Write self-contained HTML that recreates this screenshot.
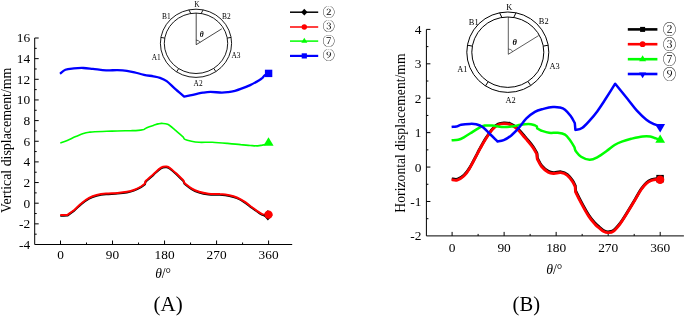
<!DOCTYPE html>
<html><head><meta charset="utf-8"><title>Displacement curves</title>
<style>
html,body{margin:0;padding:0;background:#fff}
svg{display:block}
text{font-family:"Liberation Serif","Noto Serif CJK SC",serif;fill:#000}
.c{font-family:"Liberation Serif","Noto Serif CJK SC","Noto Sans CJK SC","DejaVu Sans",serif}
</style></head><body>
<svg width="685" height="317" viewBox="0 0 685 317">
<rect width="685" height="317" fill="#fff"/>
<g id="chartA">
<path d="M38.7 38.0L34.7 38.0L34.7 244.5L292.2 244.5M34.7 48.33h2M34.7 58.65h4M34.7 68.97h2M34.7 79.30h4M34.7 89.62h2M34.7 99.95h4M34.7 110.28h2M34.7 120.60h4M34.7 130.93h2M34.7 141.25h4M34.7 151.57h2M34.7 161.90h4M34.7 172.22h2M34.7 182.55h4M34.7 192.88h2M34.7 203.20h4M34.7 213.53h2M34.7 223.85h4M34.7 234.18h2M60.50 244.5v-4M86.51 244.5v-2M112.53 244.5v-4M138.54 244.5v-2M164.55 244.5v-4M190.56 244.5v-2M216.58 244.5v-4M242.59 244.5v-2M268.60 244.5v-4" fill="none" stroke="#000" stroke-width="1"/>
<g font-size="13.4" text-anchor="end">
<text x="30.2" y="42.3">16</text>
<text x="30.2" y="62.9">14</text>
<text x="30.2" y="83.6">12</text>
<text x="30.2" y="104.2">10</text>
<text x="30.2" y="124.9">8</text>
<text x="30.2" y="145.6">6</text>
<text x="30.2" y="166.2">4</text>
<text x="30.2" y="186.9">2</text>
<text x="30.2" y="207.5">0</text>
<text x="30.2" y="228.2">-2</text>
<text x="30.2" y="248.8">-4</text>
</g>
<g font-size="13.3" text-anchor="middle">
<text x="60.5" y="259.3">0</text>
<text x="112.5" y="259.3">90</text>
<text x="164.6" y="259.3">180</text>
<text x="216.6" y="259.3">270</text>
<text x="268.6" y="259.3">360</text>
</g>
<text font-size="13.9" text-anchor="middle" transform="translate(11.2 140.3) rotate(-90)">Vertical displacement/mm</text>
<text font-size="13.6" text-anchor="middle" x="163.1" y="278.2"><tspan font-style="italic">θ</tspan>/°</text>
<text font-size="21" text-anchor="middle" x="168.1" y="311.3">(A)</text>
<g fill="none" stroke-linejoin="round" stroke-linecap="butt">
<path d="M60.1 73.8C61.0 73.1 63.1 70.6 65.4 69.7C67.7 68.8 70.9 68.7 73.9 68.4C76.9 68.1 80.2 67.9 83.4 68.0C86.6 68.1 89.1 68.5 92.9 68.9C96.7 69.3 102.0 70.2 106.1 70.4C110.2 70.6 114.0 70.0 117.5 70.1C121.0 70.2 124.1 70.4 126.9 70.8C129.7 71.2 131.7 71.6 134.5 72.3C137.3 73.0 140.8 74.1 144.0 74.8C147.2 75.5 150.7 75.8 153.4 76.3C156.1 76.8 157.8 77.0 160.0 77.8C162.2 78.6 164.3 79.4 166.7 81.2C169.1 83.0 171.7 85.8 174.6 88.4C177.5 91.0 182.6 95.3 184.2 96.7C185.6 96.4 189.8 95.5 192.9 94.8C196.0 94.1 200.1 93.2 203.0 92.7C205.9 92.2 207.3 91.9 210.5 91.9C213.7 91.9 219.0 92.6 221.9 92.6C224.8 92.6 226.0 92.4 228.2 92.1C230.4 91.8 232.9 91.3 235.0 90.8C237.1 90.3 238.2 89.9 240.7 88.9C243.2 88.0 247.0 86.6 250.2 85.1C253.3 83.6 257.6 81.1 259.6 79.9C261.7 78.7 261.7 78.5 262.5 77.8C263.3 77.0 263.6 76.1 264.6 75.4C265.6 74.7 267.9 73.8 268.5 73.5" stroke="#0000ff" stroke-width="2.3"/>
<path d="M60.3 142.9C61.5 142.5 64.7 141.5 67.3 140.4C69.9 139.3 73.1 137.7 75.8 136.6C78.5 135.5 81.2 134.3 83.4 133.6C85.6 132.9 87.2 132.6 89.1 132.3C91.0 132.0 90.9 131.9 94.7 131.7C98.5 131.5 105.8 131.3 111.8 131.1C117.8 130.9 126.3 130.8 130.7 130.7C135.1 130.6 136.1 130.6 138.3 130.4C140.5 130.2 143.1 129.6 144.0 129.4C144.5 129.1 145.2 128.4 146.8 127.7C148.4 127.0 151.5 126.0 153.4 125.4C155.3 124.8 156.8 124.2 158.2 123.9C159.6 123.6 160.3 123.3 161.9 123.4C163.5 123.5 165.5 123.3 167.6 124.3C169.7 125.3 172.0 127.4 174.6 129.6C177.2 131.8 181.9 135.9 183.4 137.2C183.7 137.6 183.6 138.7 184.9 139.4C186.2 140.1 189.1 140.8 191.5 141.3C193.9 141.8 195.6 142.1 199.1 142.3C202.6 142.5 207.6 142.1 212.3 142.3C217.0 142.5 222.8 143.0 227.5 143.4C232.2 143.8 236.9 144.2 240.7 144.6C244.5 144.9 247.4 145.3 250.2 145.5C253.0 145.7 255.6 146.0 257.7 145.9C259.8 145.8 260.8 145.4 262.5 145.1C264.2 144.8 267.2 144.0 268.2 143.8" stroke="#00ff00" stroke-width="1.6"/>
<path d="M60.3 215.1C61.5 215.1 66.1 214.9 67.3 214.9C68.4 214.1 71.5 212.1 73.9 210.2C76.3 208.2 79.0 205.2 81.5 203.2C84.0 201.1 86.6 199.3 89.1 197.9C91.6 196.5 93.8 195.7 96.6 195.0C99.4 194.3 102.6 193.8 106.1 193.5C109.6 193.2 114.0 193.2 117.5 192.9C121.0 192.6 124.1 192.3 126.9 191.8C129.7 191.3 132.1 190.6 134.5 189.7C136.9 188.8 139.4 187.5 141.1 186.5C142.8 185.5 144.3 184.2 144.9 183.7C145.0 183.3 145.4 181.6 145.5 181.2C146.8 180.0 150.8 176.5 153.4 174.2C156.0 171.9 158.8 168.9 161.0 167.6C163.2 166.3 165.1 166.4 166.7 166.6C168.3 166.8 168.9 167.3 170.5 168.5C172.1 169.7 174.2 171.6 176.4 173.6C178.6 175.6 182.2 179.3 183.4 180.4C183.6 180.8 184.3 182.7 184.5 183.1C185.7 184.0 189.1 186.9 191.5 188.4C193.9 189.9 196.3 190.9 199.1 191.8C201.9 192.7 205.0 193.3 208.5 193.7C212.0 194.1 216.4 193.8 219.9 194.1C223.4 194.3 226.6 194.6 229.4 195.2C232.2 195.8 234.4 196.4 236.9 197.5C239.4 198.6 242.0 200.0 244.5 201.6C247.0 203.2 249.6 205.5 252.1 207.3C254.6 209.1 257.6 211.3 259.6 212.6C261.7 213.9 262.9 214.5 264.4 214.9C265.9 215.3 267.8 214.9 268.5 214.9" stroke="#000" stroke-width="2" transform="translate(0 0.7)"/>
<path d="M60.3 215.1C61.5 215.1 66.1 214.9 67.3 214.9C68.4 214.1 71.5 212.1 73.9 210.2C76.3 208.2 79.0 205.2 81.5 203.2C84.0 201.1 86.6 199.3 89.1 197.9C91.6 196.5 93.8 195.7 96.6 195.0C99.4 194.3 102.6 193.8 106.1 193.5C109.6 193.2 114.0 193.2 117.5 192.9C121.0 192.6 124.1 192.3 126.9 191.8C129.7 191.3 132.1 190.6 134.5 189.7C136.9 188.8 139.4 187.5 141.1 186.5C142.8 185.5 144.3 184.2 144.9 183.7C145.0 183.3 145.4 181.6 145.5 181.2C146.8 180.0 150.8 176.5 153.4 174.2C156.0 171.9 158.8 168.9 161.0 167.6C163.2 166.3 165.1 166.4 166.7 166.6C168.3 166.8 168.9 167.3 170.5 168.5C172.1 169.7 174.2 171.6 176.4 173.6C178.6 175.6 182.2 179.3 183.4 180.4C183.6 180.8 184.3 182.7 184.5 183.1C185.7 184.0 189.1 186.9 191.5 188.4C193.9 189.9 196.3 190.9 199.1 191.8C201.9 192.7 205.0 193.3 208.5 193.7C212.0 194.1 216.4 193.8 219.9 194.1C223.4 194.3 226.6 194.6 229.4 195.2C232.2 195.8 234.4 196.4 236.9 197.5C239.4 198.6 242.0 200.0 244.5 201.6C247.0 203.2 249.6 205.5 252.1 207.3C254.6 209.1 257.6 211.3 259.6 212.6C261.7 213.9 262.9 214.5 264.4 214.9C265.9 215.3 267.8 214.9 268.5 214.9" stroke="#ff0000" stroke-width="2"/>
</g>
<rect x="264.9" y="69.7" width="7.4" height="7.4" fill="#0000ff"/>
<path d="M268.5 137.2L273.6 145.8H263.4Z" fill="#00ff00"/>
<path d="M267.9 210L272.5 215.2L267.9 220.4L263.3 215.2Z" fill="#000"/>
<circle cx="268.5" cy="214.6" r="4.2" fill="#ff0000"/>
<g fill="none" stroke="#000" stroke-width="0.9">
<ellipse cx="196.0" cy="43.3" rx="35.6" ry="34.1"/>
<ellipse cx="196.0" cy="43.3" rx="31.7" ry="30.2"/>
<path d="M231.1 37.4L227.2 38.1M160.9 37.4L164.8 38.1M215.9 71.6L213.7 68.3M176.6 71.9L178.7 68.6M188.9 9.9L190.8 13.5M203.1 9.9L201.2 13.5"/>
<path d="M196.2 13.1L196.2 44.7L221.8 28.8" stroke-width="0.72"/>
<path d="M196.2 40.1A4.6 4.6 0 0 1 200.1 42.3" stroke-width="0.63"/>
</g>
<g font-size="7.4" text-anchor="middle">
<text x="197.0" y="6.9">K</text>
<text x="166.3" y="19.4">B1</text>
<text x="226.4" y="19.2">B2</text>
<text x="156.3" y="59.7">A1</text>
<text x="236.0" y="57.9">A3</text>
<text x="198.1" y="86.0">A2</text>
<text x="201.8" y="37" font-size="7.5" font-style="italic" font-weight="bold">θ</text>
</g>
<g stroke-width="1.5">
<path d="M290 12.2H318.2" stroke="#000" stroke-width="1.5"/>
<path d="M290 27.0H318.2" stroke="#ff0000" stroke-width="1.5"/>
<path d="M290 41.1H318.2" stroke="#00ff00" stroke-width="1.5"/>
<path d="M290 55.9H318.2" stroke="#0000ff" stroke-width="2.2"/>
</g>
<path d="M304.3 8.8l3.2 3.4l-3.2 3.4l-3.2 -3.4Z" fill="#000"/>
<circle cx="304.3" cy="27.0" r="2.7" fill="#ff0000"/>
<path d="M304.3 37.8l3 5h-6Z" fill="#00ff00"/>
<rect x="301.7" y="53.3" width="5.2" height="5.2" fill="#0000ff"/>
<g class="c" font-size="12.5" text-anchor="middle">
<text class="c" x="328.8" y="16.9">②</text>
<text class="c" x="328.8" y="31.3">③</text>
<text class="c" x="328.8" y="45.8">⑦</text>
<text class="c" x="328.8" y="60.0">⑨</text>
</g>
</g>
<g id="chartB">
<path d="M430.4 29.4L426.4 29.4L426.4 235.9L683.9 235.9M426.4 46.61h2M426.4 63.82h4M426.4 81.03h2M426.4 98.23h4M426.4 115.44h2M426.4 132.65h4M426.4 149.86h2M426.4 167.07h4M426.4 184.28h2M426.4 201.48h4M426.4 218.69h2M452.10 235.9v-4M478.11 235.9v-2M504.12 235.9v-4M530.14 235.9v-2M556.15 235.9v-4M582.16 235.9v-2M608.18 235.9v-4M634.19 235.9v-2M660.20 235.9v-4" fill="none" stroke="#000" stroke-width="1"/>
<g font-size="13.4" text-anchor="end">
<text x="421.5" y="33.8">4</text>
<text x="421.5" y="68.2">3</text>
<text x="421.5" y="102.6">2</text>
<text x="421.5" y="137.1">1</text>
<text x="421.5" y="171.5">0</text>
<text x="421.5" y="205.9">-1</text>
<text x="421.5" y="240.3">-2</text>
</g>
<g font-size="13.4" text-anchor="middle">
<text x="452.1" y="251.5">0</text>
<text x="504.1" y="251.5">90</text>
<text x="556.2" y="251.5">180</text>
<text x="608.2" y="251.5">270</text>
<text x="660.2" y="251.5">360</text>
</g>
<text font-size="13.7" text-anchor="middle" transform="translate(405.2 133) rotate(-90)">Horizontal displacement/mm</text>
<text font-size="13.8" text-anchor="middle" x="554.3" y="273.9"><tspan font-style="italic">θ</tspan>/°</text>
<text font-size="20.6" text-anchor="middle" x="526.3" y="311.4">(B)</text>
<g fill="none" stroke-linejoin="round" stroke-linecap="butt">
<path d="M451.6 179.7C452.6 179.8 455.2 180.7 457.3 180.1C459.4 179.5 461.8 177.9 463.9 176.0C465.9 174.1 467.4 172.0 469.6 168.4C471.8 164.8 475.4 157.5 477.2 154.2C479.0 150.9 478.8 150.9 480.2 148.5C481.6 146.1 483.4 142.6 485.4 139.5C487.4 136.4 490.2 132.1 492.3 129.7C494.4 127.3 496.1 126.0 498.0 125.0C499.9 124.0 501.6 123.8 503.7 123.7C505.8 123.6 508.1 123.8 510.3 124.6C512.5 125.4 514.5 126.7 516.9 128.8C519.3 130.9 522.8 135.4 524.5 137.3C526.2 139.2 525.9 138.8 527.3 140.5C528.7 142.2 531.4 145.3 533.0 147.6C534.6 149.9 536.2 153.1 536.8 154.2C536.9 155.0 537.1 158.1 537.2 158.9C537.9 160.2 539.7 164.3 541.5 166.5C543.3 168.7 546.2 171.0 548.2 172.2C550.2 173.4 551.7 173.4 553.8 173.5C555.9 173.6 558.5 172.4 560.8 172.7C563.0 173.0 565.4 173.9 567.3 175.4C569.2 176.9 571.1 179.6 572.4 181.5C573.7 183.4 574.6 185.8 575.1 186.7C575.2 187.5 575.4 191.0 575.5 191.8C576.5 193.9 579.5 200.0 581.7 204.1C583.9 208.2 586.6 213.1 588.8 216.4C591.0 219.8 593.3 222.3 595.0 224.2C596.7 226.1 597.6 226.7 599.1 227.9C600.6 229.1 602.3 230.8 603.8 231.6C605.3 232.4 606.6 232.8 608.2 232.7C609.8 232.6 611.4 232.7 613.3 231.3C615.2 229.9 617.5 227.2 619.8 224.3C622.0 221.4 624.3 217.7 626.8 213.6C629.3 209.5 632.6 204.0 635.0 200.0C637.4 196.0 639.2 192.4 641.1 189.7C643.0 187.0 644.5 185.1 646.2 183.6C647.9 182.1 649.7 181.2 651.4 180.5C653.1 179.8 655.1 179.6 656.5 179.5C657.9 179.4 659.4 179.8 660.0 179.9" stroke="#000" stroke-width="2.8" transform="translate(0.2 -0.9)"/>
<path d="M451.6 179.7C452.6 179.8 455.2 180.7 457.3 180.1C459.4 179.5 461.8 177.9 463.9 176.0C465.9 174.1 467.4 172.0 469.6 168.4C471.8 164.8 475.4 157.5 477.2 154.2C479.0 150.9 478.8 150.9 480.2 148.5C481.6 146.1 483.4 142.6 485.4 139.5C487.4 136.4 490.2 132.1 492.3 129.7C494.4 127.3 496.1 126.0 498.0 125.0C499.9 124.0 501.6 123.8 503.7 123.7C505.8 123.6 508.1 123.8 510.3 124.6C512.5 125.4 514.5 126.7 516.9 128.8C519.3 130.9 522.8 135.4 524.5 137.3C526.2 139.2 525.9 138.8 527.3 140.5C528.7 142.2 531.4 145.3 533.0 147.6C534.6 149.9 536.2 153.1 536.8 154.2C536.9 155.0 537.1 158.1 537.2 158.9C537.9 160.2 539.7 164.3 541.5 166.5C543.3 168.7 546.2 171.0 548.2 172.2C550.2 173.4 551.7 173.4 553.8 173.5C555.9 173.6 558.5 172.4 560.8 172.7C563.0 173.0 565.4 173.9 567.3 175.4C569.2 176.9 571.1 179.6 572.4 181.5C573.7 183.4 574.6 185.8 575.1 186.7C575.2 187.5 575.4 191.0 575.5 191.8C576.5 193.9 579.5 200.0 581.7 204.1C583.9 208.2 586.6 213.1 588.8 216.4C591.0 219.8 593.3 222.3 595.0 224.2C596.7 226.1 597.6 226.7 599.1 227.9C600.6 229.1 602.3 230.8 603.8 231.6C605.3 232.4 606.6 232.8 608.2 232.7C609.8 232.6 611.4 232.7 613.3 231.3C615.2 229.9 617.5 227.2 619.8 224.3C622.0 221.4 624.3 217.7 626.8 213.6C629.3 209.5 632.6 204.0 635.0 200.0C637.4 196.0 639.2 192.4 641.1 189.7C643.0 187.0 644.5 185.1 646.2 183.6C647.9 182.1 649.7 181.2 651.4 180.5C653.1 179.8 655.1 179.6 656.5 179.5C657.9 179.4 659.4 179.8 660.0 179.9" stroke="#ff0000" stroke-width="2.8"/>
<path d="M451.6 140.2C452.7 140.1 456.1 140.3 458.2 139.8C460.2 139.3 461.7 138.5 463.9 137.3C466.1 136.1 469.0 134.2 471.5 132.6C474.0 131.0 476.9 129.1 479.1 127.9C481.3 126.7 482.5 126.0 484.7 125.6C486.9 125.2 489.4 125.4 492.3 125.6C495.2 125.8 498.6 126.8 501.8 127.0C505.0 127.2 508.1 127.0 511.3 126.6C514.5 126.2 517.9 125.2 520.7 124.8C523.5 124.4 526.1 124.1 528.3 124.1C530.5 124.1 532.6 124.6 534.0 125.0C535.4 125.4 536.3 126.1 536.8 126.3C536.9 126.7 537.1 128.1 537.2 128.4C537.9 128.8 539.5 130.0 541.5 130.7C543.5 131.4 546.4 132.5 549.1 132.8C551.8 133.2 555.0 132.5 557.6 132.8C560.2 133.1 563.0 133.4 565.0 134.6C567.0 135.8 568.1 137.6 569.7 139.7C571.3 141.8 573.7 146.0 574.5 147.3C574.6 147.9 575.2 150.1 575.4 150.7C576.4 151.7 578.7 155.3 581.1 156.8C583.5 158.3 586.9 159.7 589.6 159.8C592.3 159.9 594.4 158.8 597.2 157.3C600.0 155.9 603.7 153.2 606.6 151.1C609.5 149.0 612.1 146.6 614.6 145.0C617.1 143.4 619.0 142.6 621.8 141.6C624.6 140.6 627.7 139.7 631.2 138.8C634.7 138.0 639.4 136.9 642.6 136.5C645.8 136.1 648.0 136.2 650.2 136.5C652.4 136.8 654.2 137.8 655.9 138.4C657.6 139.0 659.5 139.8 660.2 140.1" stroke="#00ff00" stroke-width="2.5"/>
<path d="M451.6 126.9C452.4 126.8 454.8 126.8 456.4 126.5C458.0 126.2 458.9 125.2 461.1 124.8C463.3 124.4 467.1 124.0 469.6 123.9C472.1 123.8 474.0 123.7 476.2 124.3C478.4 124.9 480.5 125.6 482.9 127.3C485.3 129.0 487.9 132.1 490.4 134.5C492.8 136.9 496.4 140.3 497.6 141.5C498.6 141.3 501.4 141.2 503.7 140.2C506.0 139.2 508.8 137.4 511.3 135.4C513.8 133.4 516.3 130.7 518.8 127.9C521.3 125.1 523.7 121.1 526.4 118.4C529.1 115.7 532.1 113.4 534.9 111.8C537.7 110.2 540.4 109.7 543.4 108.9C546.4 108.1 550.2 107.2 552.9 107.0C555.6 106.8 557.5 107.0 559.5 107.4C561.5 107.9 563.1 108.2 565.0 109.7C566.9 111.2 569.1 113.9 570.7 116.1C572.3 118.3 574.1 121.9 574.8 123.1C574.9 124.2 575.3 128.8 575.4 129.9C576.5 129.6 579.6 129.6 582.0 128.0C584.4 126.5 587.1 123.4 589.6 120.6C592.1 117.8 594.7 114.8 597.2 111.4C599.7 108.0 601.7 104.9 604.7 100.3C607.7 95.7 613.5 86.5 615.2 83.7C617.3 86.3 624.2 94.8 627.8 99.3C631.4 103.8 633.8 107.3 636.9 110.7C640.0 114.1 643.5 117.5 646.4 119.7C649.2 122.0 651.7 123.1 654.0 124.2C656.3 125.3 659.2 125.8 660.2 126.1" stroke="#0000ff" stroke-width="2.5"/>
</g>
<rect x="656.3" y="174.9" width="7.5" height="7.5" fill="#000"/>
<circle cx="660.1" cy="179.8" r="4.2" fill="#ff0000"/>
<path d="M660.2 134.4L665.1 142.8H655.3Z" fill="#00ff00"/>
<path d="M654.9 124H665.1L660.2 132.6Z" fill="#0000ff"/>
<g fill="none" stroke="#000" stroke-width="1">
<ellipse cx="507.8" cy="52.2" rx="41.0" ry="40.2"/>
<ellipse cx="507.8" cy="52.2" rx="36.0" ry="35.2"/>
<path d="M548.2 45.2L543.3 46.1M467.4 45.2L472.3 46.1M530.7 85.5L527.9 81.4M485.5 85.9L488.2 81.7M499.6 12.8L501.9 17.5M516.0 12.8L513.7 17.5"/>
<path d="M508.3 17.0L508.3 54.3L538.6 35.6" stroke-width="0.64"/>
<path d="M508.3 49.0A5.3 5.3 0 0 1 512.8 51.5" stroke-width="0.56"/>
</g>
<g font-size="8.4" text-anchor="middle">
<text x="509.2" y="9.7">K</text>
<text x="473.7" y="24.9">B1</text>
<text x="543.7" y="23.9">B2</text>
<text x="462.3" y="71.8">A1</text>
<text x="554.7" y="68.8">A3</text>
<text x="510.6" y="102.6">A2</text>
<text x="514.6" y="45.3" font-size="8.5" font-style="italic" font-weight="bold">θ</text>
</g>
<path d="M627.8 29.4H657.4" stroke="#000" stroke-width="2.6"/>
<path d="M627.8 44.2H657.4" stroke="#ff0000" stroke-width="2.6"/>
<path d="M627.8 59.2H657.4" stroke="#00ff00" stroke-width="2.6"/>
<path d="M627.8 74.0H657.4" stroke="#0000ff" stroke-width="2.6"/>
<rect x="640.1" y="26.9" width="5" height="5" fill="#000"/>
<circle cx="642.6" cy="44.2" r="2.9" fill="#ff0000"/>
<path d="M642.6 55.2l3.5 6h-7Z" fill="#00ff00"/>
<path d="M642.6 78.2l-3.5 -5.8h7Z" fill="#0000ff"/>
<g class="c" font-size="13.5" text-anchor="middle">
<text class="c" x="669.5" y="34.1">②</text>
<text class="c" x="669.5" y="48.9">③</text>
<text class="c" x="669.5" y="63.9">⑦</text>
<text class="c" x="669.5" y="78.7">⑨</text>
</g>
</g>
</svg></body></html>
